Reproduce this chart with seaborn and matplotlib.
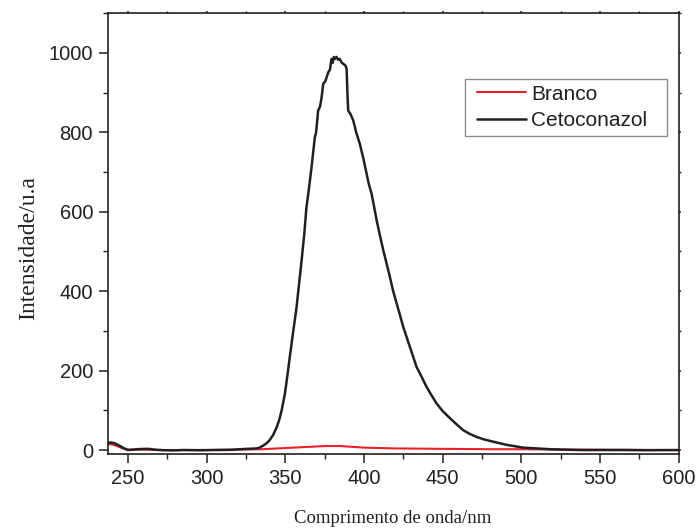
import matplotlib
matplotlib.use("Agg")
import matplotlib.pyplot as plt
import seaborn as sns
import pandas as pd
from matplotlib.ticker import MultipleLocator
from matplotlib.lines import Line2D
from matplotlib.legend_handler import HandlerLine2D

# ---- data ----
black_x = [237, 239, 241.5, 243.5, 245.8, 248, 250, 253, 257.4, 262.7, 268, 273, 278.6, 285, 295, 305,
           315, 321, 326, 329, 331.6, 333.5, 335.8, 338, 340, 342.2, 344.4, 346, 347.5, 348.6, 349.6,
           351, 352.8, 355, 357.1, 358.7, 360.3, 362, 363.4, 365, 366.6, 368.7, 369.5, 370.8, 372,
           373.0, 374.0, 375.5, 377.2, 378.3, 379.3, 380.0, 380.8, 381.5, 382.5, 383.5, 384.5, 385.7,
           387, 388.2, 388.9, 389.4, 389.9, 391.5, 393.1, 395, 397.3, 399.5, 401.6, 403, 404.8, 406.5,
           408.0, 410.1, 412.2, 414.3, 416.4, 418.5, 420.7, 422.8, 424.9, 427, 429.1, 431.2, 433.4,
           436.5, 439.7, 443, 446.1, 450, 454.6, 459, 463.0, 467, 471.5, 476, 482.1, 490.6, 501.2,
           510, 518.2, 527, 537.2, 550, 565, 580, 600]
black_y = [18, 19, 17, 13, 8, 3, 0, 1, 2.5, 3, 0.5, -0.5, -1, 0, -0.5, 0,
           0.5, 2, 3, 3.5, 4, 6, 11, 17, 25, 38, 57, 75, 98, 120, 140,
           180, 235, 300, 360, 420, 478, 545, 612, 660, 712, 788, 800, 855, 865,
           888, 922, 930, 951, 958, 985, 975, 990, 985, 990, 983, 985, 976,
           972, 968, 960, 900, 855, 845, 830, 800, 771, 735, 696, 670, 645, 610,
           578, 540, 503, 470, 436, 400, 369, 340, 310, 285, 260, 235, 209,
           185, 159, 137, 117, 98, 80, 64, 50, 41, 33, 27, 21, 13, 6,
           4, 2, 1, 0, 0, 0, -0.5, 0]

red_x = [237, 240, 243, 246, 250, 260, 270, 280, 300, 320, 335, 350, 365, 375, 385, 400, 420, 450,
         480, 500, 530, 560, 600]
red_y = [15, 14, 10, 5, 1, 1, 0, 0, 0, 1, 2, 5, 8, 10, 10, 6, 4, 3, 2, 2, 1, 0.5, 0]

labels = ["Branco", "Cetoconazol"]
x_ticks = [250, 300, 350, 400, 450, 500, 550, 600]
y_ticks = [0, 200, 400, 600, 800, 1000]

df_red = pd.DataFrame({"x": red_x, "y": red_y})
df_black = pd.DataFrame({"x": black_x, "y": black_y})

sns.set_style("ticks")
plt.rcParams["font.family"] = ["Liberation Sans", "DejaVu Sans"]

ink = "#231f20"
fig = plt.figure(figsize=(6.99, 5.30), dpi=100)
ax = fig.add_axes([0.154, 0.1434, 0.817, 0.8316])

sns.lineplot(data=df_red, x="x", y="y", ax=ax, color="#e8202a", lw=1.5, label=labels[0], estimator=None, sort=False)
sns.lineplot(data=df_black, x="x", y="y", ax=ax, color=ink, lw=1.8, label=labels[1], estimator=None, sort=False)

ax.set_xlim(237, 600)
ax.set_ylim(-10, 1100)
ax.set_xticks(x_ticks)
ax.set_yticks(y_ticks)
ax.xaxis.set_minor_locator(MultipleLocator(25))
ax.yaxis.set_minor_locator(MultipleLocator(100))

for s in ax.spines.values():
    s.set_visible(True)
    s.set_color(ink)
    s.set_linewidth(1.2)

ax.tick_params(axis="both", which="major", direction="out", length=6.5, width=1.1, color=ink,
               labelsize=14.5, labelcolor=ink, pad=4)
ax.tick_params(axis="both", which="minor", direction="out", length=3.6, width=1.0, color=ink)
ax.tick_params(top=True, right=True, which="both")
for t in ax.xaxis.get_ticklines(minor=False)[1::2] + ax.xaxis.get_ticklines(minor=True)[1::2]:
    t.set_markersize(1.5)
for t in ax.yaxis.get_ticklines(minor=False)[1::2] + ax.yaxis.get_ticklines(minor=True)[1::2]:
    t.set_markersize(1.5)

ax.set_xlabel("Comprimento de onda/nm", family=["Liberation Serif", "DejaVu Serif"], fontsize=13.5,
              color=ink, labelpad=16)
ax.set_ylabel("Intensidade/u.a", family=["Liberation Serif", "DejaVu Serif"], fontsize=17,
              color=ink)
ax.yaxis.set_label_coords(-0.12, 0.467)

leg = ax.legend(loc="upper left", bbox_to_anchor=(0.6257, 0.85, 0.3533, 0.0), mode="expand",
                borderaxespad=0, fontsize=15, frameon=True, fancybox=False, edgecolor="#6d6e71",
                handlelength=2.67, handletextpad=0.27, borderpad=0.25, labelspacing=0.38,
                handler_map={Line2D: HandlerLine2D(xpad=0.31)})
leg.get_frame().set_linewidth(1.0)
for t in leg.get_texts():
    t.set_color(ink)

fig.savefig("out.png", dpi=100)
